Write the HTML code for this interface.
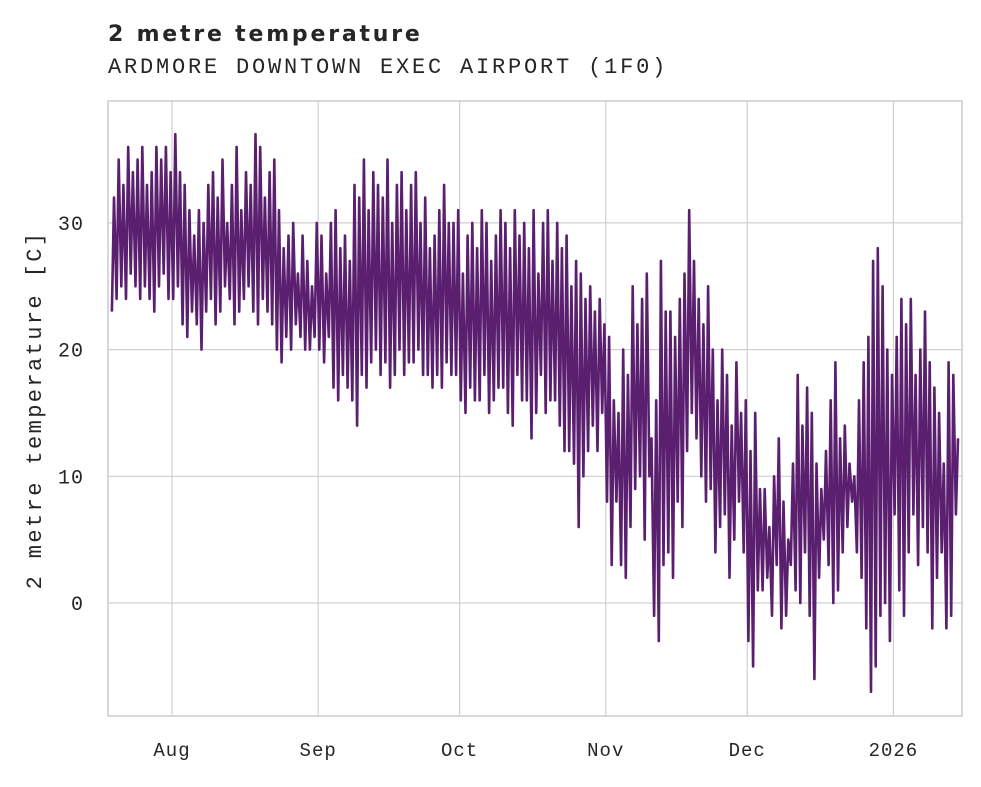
<!DOCTYPE html>
<html><head><meta charset="utf-8"><style>
body{margin:0;background:#fff}
svg text{fill:#262626}
.mono{font-family:"Liberation Mono","DejaVu Sans Mono",monospace}
</style></head><body>
<svg id="chart" width="981" height="782" xmlns="http://www.w3.org/2000/svg">
<text x="108" y="41" font-family="DejaVu Sans, Liberation Sans, sans-serif" font-weight="bold" font-size="22" letter-spacing="2.8">2 metre temperature</text>
<text x="108" y="73" class="mono" font-size="22" letter-spacing="2.8">ARDMORE DOWNTOWN EXEC AIRPORT (1F0)</text>
<g id="grid"></g>
<g id="yticks"></g>
<g id="xticks"></g>
<text transform="translate(41,410) rotate(-90)" text-anchor="middle" class="mono" font-size="22" letter-spacing="2.4">2 metre temperature [C]</text>
<path id="line" fill="none" stroke="#5b1f6f" stroke-width="2.6" stroke-linejoin="round"/>
<rect x="108" y="101" width="854" height="615" fill="none" stroke="#cccccc" stroke-width="1.5"/>
</svg>
<script>
const dailyMax = [32,35,33,36,34,35,36,33,34,36,35,36,34,
37,34,33,31,29,31,30,33,34,32,35,30,33,36,31,34,33,37,36,32,34,35,31,28,29,30,26,29,27,25,30,
29,26,30,31,28,29,27,33,32,35,31,34,33,32,35,30,33,34,31,33,34,30,32,28,29,31,33,30,30,31,
26,29,30,28,31,30,27,29,31,30,28,31,29,30,28,31,26,30,31,27,30,28,29,25,27,26,24,25,23,24,22,
21,16,15,20,18,25,22,24,26,13,16,27,23,23,21,24,26,31,27,24,22,25,20,16,20,18,14,19,15,16,
12,15,9,9,6,10,13,8,5,11,18,14,17,15,11,9,12,16,19,13,14,11,10,16,19,21,27,28,25,20,18,
21,24,22,24,18,20,23,19,17,15,11,19,18,13];
const dailyMin = [23,24,25,24,26,25,24,25,24,23,25,26,24,
24,25,22,21,23,22,20,23,24,22,23,25,24,22,23,24,25,23,22,24,23,22,20,19,21,20,22,21,20,20,21,
20,19,21,17,16,18,17,16,14,18,17,19,20,18,19,17,18,20,18,19,19,20,18,18,17,18,17,19,18,18,
16,15,17,16,16,18,15,16,17,17,15,14,18,16,16,13,15,18,15,16,16,14,12,12,11,6,10,12,14,12,15,
8,3,8,3,2,6,9,10,5,10,-1,-3,3,4,2,8,6,12,15,13,10,8,9,4,6,7,2,5,8,4,
-3,-5,1,1,2,-1,3,-2,-1,3,1,0,4,-1,-6,2,5,3,0,1,4,6,8,4,2,-2,-7,-5,-1,0,-3,
7,1,-1,4,7,3,6,4,-2,2,4,-2,-1,7];
const yTicks = [0,10,20,30];
const xTickLabels = ["Aug","Sep","Oct","Nov","Dec","2026"];
const xTickDays = [0,31,61,92,122,153]; // days since Aug 1
const startOffset = -13; // first data day relative to Aug 1 (Jul 19)

const NS="http://www.w3.org/2000/svg";
const X = d => 172 + d*4.715;
const Y = v => 603 - v*12.67;
const grid=document.getElementById('grid'), yt=document.getElementById('yticks'), xt=document.getElementById('xticks');
function mk(tag,attrs,parent){const e=document.createElementNS(NS,tag);for(const k in attrs)e.setAttribute(k,attrs[k]);parent.appendChild(e);return e;}
yTicks.forEach(v=>{
  const l=mk('line',{x1:108,x2:962,y1:Y(v),y2:Y(v),stroke:'#d0d0d0','stroke-width':1.2},grid);
  
  
  const t=mk('text',{x:84,y:Y(v)+7,'text-anchor':'end','font-size':20,'letter-spacing':1,class:'mono'},yt);
  t.textContent=v;
  
  
});
xTickDays.forEach((d,i)=>{
  const l=mk('line',{x1:X(d),x2:X(d),y1:101,y2:716,stroke:'#d0d0d0','stroke-width':1.2},grid);
  
  
  const t=mk('text',{x:X(d),y:756,'text-anchor':'middle','font-size':19,'letter-spacing':1,class:'mono'},xt);
  t.textContent=xTickLabels[i];
  
  
});
let d='';
const n=Math.min(dailyMax.length,dailyMin.length);
for(let i=0;i<n;i++){
  const day=startOffset+i;
  d+=(i?'L':'M')+X(day+0.25).toFixed(1)+','+Y(dailyMin[i]).toFixed(1);
  d+='L'+X(day+0.7).toFixed(1)+','+Y(dailyMax[i]).toFixed(1);
}
document.getElementById('line').setAttribute('d',d);
</script>
</body></html>
